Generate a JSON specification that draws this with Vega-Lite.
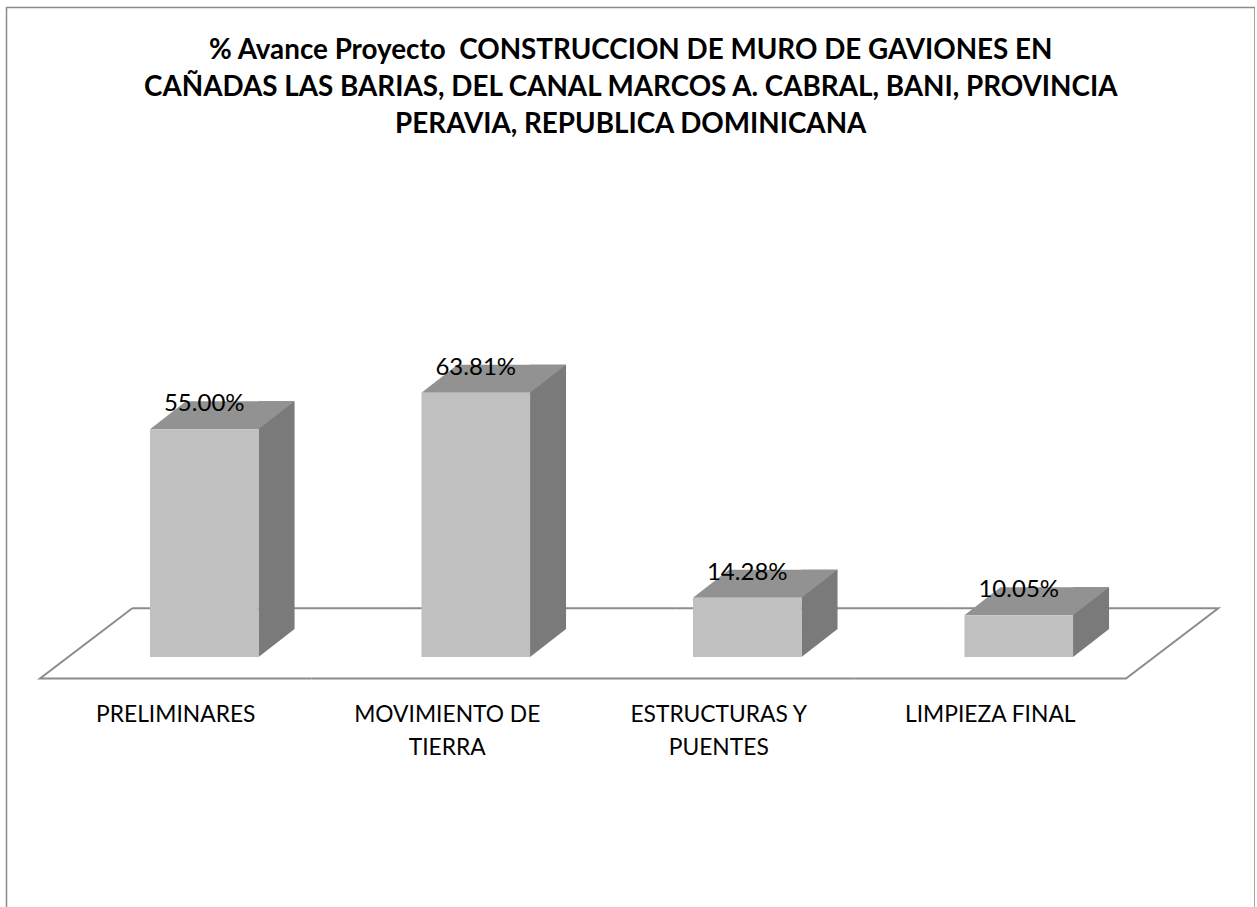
{
  "$schema": "https://vega.github.io/schema/vega-lite/v6.json",
  "width": 1248.5,
  "height": 901,
  "autosize": {"type": "none"},
  "padding": {"left": 6.5, "top": 7.5, "right": 0, "bottom": 0},
  "background": "white",
  "config": {
    "view": {"stroke": "#8a8a8a", "strokeWidth": 1.5},
    "font": "Lato"
  },
  "title": {
    "text": [
      "% Avance Proyecto\u00a0 CONSTRUCCION DE MURO DE GAVIONES EN",
      "CAÑADAS LAS BARIAS, DEL CANAL MARCOS A. CABRAL, BANI, PROVINCIA",
      "PERAVIA, REPUBLICA DOMINICANA"
    ],
    "font": "Lato",
    "fontSize": 27.8,
    "fontWeight": "bold",
    "color": "black",
    "anchor": "middle",
    "frame": "group",
    "lineHeight": 37,
    "offset": -131
  },
  "data": {
    "values": [
      {"task": "PRELIMINARES", "pct": 0.55},
      {"task": "MOVIMIENTO DE TIERRA", "pct": 0.6381},
      {"task": "ESTRUCTURAS Y PUENTES", "pct": 0.1428},
      {"task": "LIMPIEZA FINAL", "pct": 0.1005}
    ]
  },
  "encoding": {
    "x": {
      "field": "task",
      "type": "nominal",
      "sort": null,
      "scale": {"range": [62, 1148], "paddingInner": 0.6, "paddingOuter": 0.3},
      "axis": {
        "title": null,
        "orient": "bottom",
        "offset": -252,
        "domain": false,
        "ticks": false,
        "tickSize": 0,
        "labelAngle": 0,
        "labelPadding": 47,
        "labelOffset": -28.5,
        "labelFont": "Lato",
        "labelFontSize": 22.8,
        "labelColor": "black",
        "labelLimit": 0,
        "labelLineHeight": 33,
        "labelBaseline": "top",
        "labelExpr": "datum.value == 'MOVIMIENTO DE TIERRA' ? ['MOVIMIENTO DE', 'TIERRA'] : datum.value == 'ESTRUCTURAS Y PUENTES' ? ['ESTRUCTURAS Y', 'PUENTES'] : datum.value"
      }
    }
  },
  "layer": [
    {
      "mark": {"type": "point", "filled": false, "opacity": 1, "stroke": "#8c8c8c", "strokeWidth": 2, "size": 40000},
      "encoding": {
        "y": {"datum": 0, "type": "quantitative", "scale": {"domain": [0, 0.7], "range": [649.5, 359.5], "nice": false}, "axis": null},
        "shape": {
          "field": "task",
          "type": "nominal",
          "legend": null,
          "scale": {
            "domain": ["PRELIMINARES", "MOVIMIENTO DE TIERRA", "ESTRUCTURAS Y PUENTES", "LIMPIEZA FINAL"],
            "range": [
              "M-0.7195,-0.487 L-1.6425,0.215 L1.0725,0.215 M-0.7195,-0.487 L1.9955,-0.487",
              "M-1.6425,0.215 L1.0725,0.215 M-0.7195,-0.487 L1.9955,-0.487",
              "M-1.6425,0.215 L1.0725,0.215 M-0.7195,-0.487 L1.9955,-0.487",
              "M-1.6425,0.215 L1.0725,0.215 L1.9955,-0.487 L-0.7195,-0.487"
            ]
          }
        }
      }
    },
    {
      "mark": {"type": "bar", "color": "#7a7a7a", "width": 36, "xOffset": 72.3, "yOffset": -28, "y2Offset": -28},
      "encoding": {
        "y": {"field": "pct", "type": "quantitative"},
        "y2": {"datum": 0}
      }
    },
    {
      "mark": {"type": "point", "filled": true, "opacity": 1, "color": "#7a7a7a", "size": 40000, "shape": "M0.543,0 L0.543,-0.28 L0.903,-0.28 Z"},
      "encoding": {
        "y": {"datum": 0, "type": "quantitative"}
      }
    },
    {
      "mark": {"type": "point", "filled": true, "opacity": 1, "color": "#929292", "size": 40000, "shape": "M-0.543,0 L0.543,0 L0.903,-0.28 L-0.183,-0.28 Z"},
      "encoding": {
        "y": {"field": "pct", "type": "quantitative"}
      }
    },
    {
      "mark": {"type": "bar", "color": "#c0c0c0"},
      "encoding": {
        "y": {"field": "pct", "type": "quantitative"},
        "y2": {"datum": 0}
      }
    },
    {
      "mark": {"type": "text", "font": "Lato", "fontSize": 24, "color": "black", "baseline": "alphabetic", "align": "center", "dy": -18},
      "encoding": {
        "y": {"field": "pct", "type": "quantitative"},
        "text": {"field": "pct", "type": "quantitative", "format": ".2%"}
      }
    }
  ]
}
